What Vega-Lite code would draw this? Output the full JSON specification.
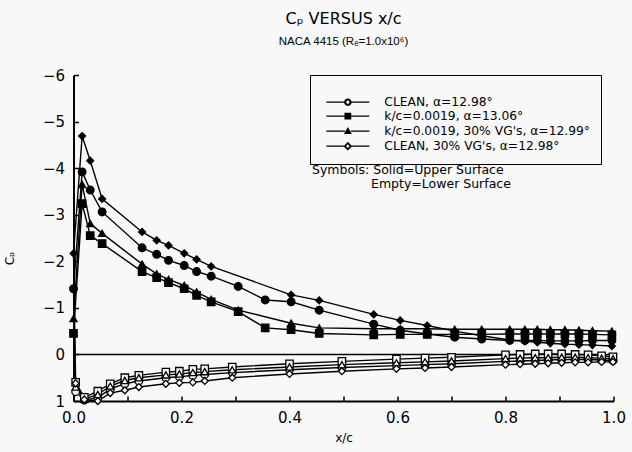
{
  "$schema": "https://vega.github.io/schema/vega-lite/v6.json",
  "width": 540,
  "height": 326,
  "autosize": "none",
  "padding": {"left": 73.5, "top": 75, "right": 18.5, "bottom": 51},
  "background": "#f8f8f8",
  "title": {
    "text": "Cₚ VERSUS x/c",
    "subtitle": "NACA 4415 (Rₑ=1.0x10⁶)",
    "font": "DejaVu Sans",
    "fontSize": 16,
    "fontWeight": "normal",
    "color": "black",
    "subtitleFont": "Liberation Sans",
    "subtitleFontSize": 11.5,
    "subtitleColor": "black",
    "subtitlePadding": 9,
    "anchor": "middle",
    "offset": 21
  },
  "config": {
    "view": {"stroke": null},
    "font": "DejaVu Sans",
    "axis": {
      "domainColor": "black",
      "domainWidth": 2,
      "tickColor": "black",
      "tickWidth": 1.5,
      "tickSize": -5,
      "labelColor": "black",
      "labelFont": "DejaVu Sans",
      "labelFontSize": 15,
      "labelFlush": false,
      "labelOverlap": false,
      "titleColor": "black",
      "titleFont": "DejaVu Sans",
      "titleFontSize": 12,
      "titleFontWeight": "normal",
      "grid": false
    }
  },
  "data": {
    "values": [
      {"c":"A","s":"U","x":0.997,"cp":-0.3},{"c":"A","s":"U","x":0.961,"cp":-0.3},{"c":"A","s":"U","x":0.936,"cp":-0.29},{"c":"A","s":"U","x":0.91,"cp":-0.29},{"c":"A","s":"U","x":0.883,"cp":-0.29},{"c":"A","s":"U","x":0.859,"cp":-0.3},{"c":"A","s":"U","x":0.836,"cp":-0.3},{"c":"A","s":"U","x":0.808,"cp":-0.3},{"c":"A","s":"U","x":0.756,"cp":-0.33},{"c":"A","s":"U","x":0.706,"cp":-0.37},{"c":"A","s":"U","x":0.655,"cp":-0.44},{"c":"A","s":"U","x":0.605,"cp":-0.52},{"c":"A","s":"U","x":0.556,"cp":-0.65},{"c":"A","s":"U","x":0.455,"cp":-0.95},{"c":"A","s":"U","x":0.403,"cp":-1.13},{"c":"A","s":"U","x":0.355,"cp":-1.17},{"c":"A","s":"U","x":0.305,"cp":-1.46},{"c":"A","s":"U","x":0.255,"cp":-1.68},{"c":"A","s":"U","x":0.228,"cp":-1.78},{"c":"A","s":"U","x":0.205,"cp":-1.91},{"c":"A","s":"U","x":0.176,"cp":-2.02},{"c":"A","s":"U","x":0.154,"cp":-2.15},{"c":"A","s":"U","x":0.127,"cp":-2.29},{"c":"A","s":"U","x":0.053,"cp":-3.06},{"c":"A","s":"U","x":0.031,"cp":-3.53},{"c":"A","s":"U","x":0.016,"cp":-3.92},{"c":"A","s":"U","x":0.0,"cp":-1.41},
      {"c":"A","s":"L","x":0.004,"cp":0.8},{"c":"A","s":"L","x":0.02,"cp":0.98},{"c":"A","s":"L","x":0.045,"cp":0.93},{"c":"A","s":"L","x":0.068,"cp":0.74},{"c":"A","s":"L","x":0.095,"cp":0.63},{"c":"A","s":"L","x":0.121,"cp":0.57},{"c":"A","s":"L","x":0.171,"cp":0.5},{"c":"A","s":"L","x":0.196,"cp":0.48},{"c":"A","s":"L","x":0.221,"cp":0.45},{"c":"A","s":"L","x":0.243,"cp":0.43},{"c":"A","s":"L","x":0.294,"cp":0.39},{"c":"A","s":"L","x":0.4,"cp":0.33},{"c":"A","s":"L","x":0.497,"cp":0.28},{"c":"A","s":"L","x":0.598,"cp":0.24},{"c":"A","s":"L","x":0.651,"cp":0.22},{"c":"A","s":"L","x":0.7,"cp":0.2},{"c":"A","s":"L","x":0.8,"cp":0.15},{"c":"A","s":"L","x":0.827,"cp":0.14},{"c":"A","s":"L","x":0.855,"cp":0.13},{"c":"A","s":"L","x":0.879,"cp":0.12},{"c":"A","s":"L","x":0.904,"cp":0.11},{"c":"A","s":"L","x":0.929,"cp":0.11},{"c":"A","s":"L","x":0.953,"cp":0.11},{"c":"A","s":"L","x":0.978,"cp":0.12},{"c":"A","s":"L","x":0.999,"cp":0.13},
      {"c":"B","s":"U","x":0.997,"cp":-0.42},{"c":"B","s":"U","x":0.961,"cp":-0.43},{"c":"B","s":"U","x":0.936,"cp":-0.44},{"c":"B","s":"U","x":0.91,"cp":-0.44},{"c":"B","s":"U","x":0.883,"cp":-0.44},{"c":"B","s":"U","x":0.859,"cp":-0.44},{"c":"B","s":"U","x":0.836,"cp":-0.44},{"c":"B","s":"U","x":0.808,"cp":-0.44},{"c":"B","s":"U","x":0.756,"cp":-0.43},{"c":"B","s":"U","x":0.706,"cp":-0.43},{"c":"B","s":"U","x":0.655,"cp":-0.43},{"c":"B","s":"U","x":0.605,"cp":-0.43},{"c":"B","s":"U","x":0.556,"cp":-0.42},{"c":"B","s":"U","x":0.455,"cp":-0.45},{"c":"B","s":"U","x":0.403,"cp":-0.53},{"c":"B","s":"U","x":0.355,"cp":-0.57},{"c":"B","s":"U","x":0.305,"cp":-0.92},{"c":"B","s":"U","x":0.255,"cp":-1.13},{"c":"B","s":"U","x":0.228,"cp":-1.27},{"c":"B","s":"U","x":0.205,"cp":-1.41},{"c":"B","s":"U","x":0.176,"cp":-1.54},{"c":"B","s":"U","x":0.154,"cp":-1.65},{"c":"B","s":"U","x":0.127,"cp":-1.78},{"c":"B","s":"U","x":0.053,"cp":-2.38},{"c":"B","s":"U","x":0.031,"cp":-2.55},{"c":"B","s":"U","x":0.016,"cp":-3.24},{"c":"B","s":"U","x":0.0,"cp":-0.45},
      {"c":"B","s":"L","x":0.004,"cp":0.6},{"c":"B","s":"L","x":0.02,"cp":0.92},{"c":"B","s":"L","x":0.045,"cp":0.79},{"c":"B","s":"L","x":0.068,"cp":0.63},{"c":"B","s":"L","x":0.095,"cp":0.5},{"c":"B","s":"L","x":0.121,"cp":0.45},{"c":"B","s":"L","x":0.171,"cp":0.38},{"c":"B","s":"L","x":0.196,"cp":0.36},{"c":"B","s":"L","x":0.221,"cp":0.32},{"c":"B","s":"L","x":0.243,"cp":0.31},{"c":"B","s":"L","x":0.294,"cp":0.27},{"c":"B","s":"L","x":0.4,"cp":0.2},{"c":"B","s":"L","x":0.497,"cp":0.15},{"c":"B","s":"L","x":0.598,"cp":0.1},{"c":"B","s":"L","x":0.651,"cp":0.08},{"c":"B","s":"L","x":0.7,"cp":0.06},{"c":"B","s":"L","x":0.8,"cp":0.01},{"c":"B","s":"L","x":0.827,"cp":0.0},{"c":"B","s":"L","x":0.855,"cp":-0.01},{"c":"B","s":"L","x":0.879,"cp":-0.01},{"c":"B","s":"L","x":0.904,"cp":-0.01},{"c":"B","s":"L","x":0.929,"cp":0.0},{"c":"B","s":"L","x":0.953,"cp":0.01},{"c":"B","s":"L","x":0.978,"cp":0.03},{"c":"B","s":"L","x":0.999,"cp":0.05},
      {"c":"C","s":"U","x":0.997,"cp":-0.5},{"c":"C","s":"U","x":0.961,"cp":-0.51},{"c":"C","s":"U","x":0.936,"cp":-0.52},{"c":"C","s":"U","x":0.91,"cp":-0.53},{"c":"C","s":"U","x":0.883,"cp":-0.53},{"c":"C","s":"U","x":0.859,"cp":-0.54},{"c":"C","s":"U","x":0.836,"cp":-0.54},{"c":"C","s":"U","x":0.808,"cp":-0.54},{"c":"C","s":"U","x":0.756,"cp":-0.54},{"c":"C","s":"U","x":0.706,"cp":-0.54},{"c":"C","s":"U","x":0.655,"cp":-0.55},{"c":"C","s":"U","x":0.605,"cp":-0.55},{"c":"C","s":"U","x":0.556,"cp":-0.55},{"c":"C","s":"U","x":0.455,"cp":-0.57},{"c":"C","s":"U","x":0.403,"cp":-0.67},{"c":"C","s":"U","x":0.305,"cp":-0.95},{"c":"C","s":"U","x":0.255,"cp":-1.18},{"c":"C","s":"U","x":0.228,"cp":-1.34},{"c":"C","s":"U","x":0.205,"cp":-1.48},{"c":"C","s":"U","x":0.176,"cp":-1.61},{"c":"C","s":"U","x":0.154,"cp":-1.73},{"c":"C","s":"U","x":0.127,"cp":-1.94},{"c":"C","s":"U","x":0.053,"cp":-2.6},{"c":"C","s":"U","x":0.031,"cp":-2.81},{"c":"C","s":"U","x":0.016,"cp":-3.65},{"c":"C","s":"U","x":0.0,"cp":-0.77},
      {"c":"C","s":"L","x":0.004,"cp":0.7},{"c":"C","s":"L","x":0.02,"cp":0.96},{"c":"C","s":"L","x":0.045,"cp":0.86},{"c":"C","s":"L","x":0.068,"cp":0.68},{"c":"C","s":"L","x":0.095,"cp":0.56},{"c":"C","s":"L","x":0.121,"cp":0.5},{"c":"C","s":"L","x":0.171,"cp":0.44},{"c":"C","s":"L","x":0.196,"cp":0.42},{"c":"C","s":"L","x":0.221,"cp":0.39},{"c":"C","s":"L","x":0.243,"cp":0.37},{"c":"C","s":"L","x":0.294,"cp":0.33},{"c":"C","s":"L","x":0.4,"cp":0.27},{"c":"C","s":"L","x":0.497,"cp":0.22},{"c":"C","s":"L","x":0.598,"cp":0.18},{"c":"C","s":"L","x":0.651,"cp":0.16},{"c":"C","s":"L","x":0.7,"cp":0.14},{"c":"C","s":"L","x":0.8,"cp":0.09},{"c":"C","s":"L","x":0.827,"cp":0.08},{"c":"C","s":"L","x":0.855,"cp":0.07},{"c":"C","s":"L","x":0.879,"cp":0.07},{"c":"C","s":"L","x":0.904,"cp":0.06},{"c":"C","s":"L","x":0.929,"cp":0.06},{"c":"C","s":"L","x":0.953,"cp":0.07},{"c":"C","s":"L","x":0.978,"cp":0.08},{"c":"C","s":"L","x":0.999,"cp":0.09},
      {"c":"D","s":"U","x":0.997,"cp":-0.18},{"c":"D","s":"U","x":0.961,"cp":-0.2},{"c":"D","s":"U","x":0.936,"cp":-0.21},{"c":"D","s":"U","x":0.91,"cp":-0.22},{"c":"D","s":"U","x":0.883,"cp":-0.24},{"c":"D","s":"U","x":0.859,"cp":-0.26},{"c":"D","s":"U","x":0.836,"cp":-0.28},{"c":"D","s":"U","x":0.808,"cp":-0.31},{"c":"D","s":"U","x":0.756,"cp":-0.4},{"c":"D","s":"U","x":0.706,"cp":-0.5},{"c":"D","s":"U","x":0.655,"cp":-0.62},{"c":"D","s":"U","x":0.605,"cp":-0.73},{"c":"D","s":"U","x":0.556,"cp":-0.86},{"c":"D","s":"U","x":0.455,"cp":-1.16},{"c":"D","s":"U","x":0.403,"cp":-1.28},{"c":"D","s":"U","x":0.255,"cp":-1.89},{"c":"D","s":"U","x":0.228,"cp":-2.04},{"c":"D","s":"U","x":0.205,"cp":-2.17},{"c":"D","s":"U","x":0.176,"cp":-2.34},{"c":"D","s":"U","x":0.154,"cp":-2.45},{"c":"D","s":"U","x":0.127,"cp":-2.63},{"c":"D","s":"U","x":0.053,"cp":-3.34},{"c":"D","s":"U","x":0.031,"cp":-4.16},{"c":"D","s":"U","x":0.016,"cp":-4.69},{"c":"D","s":"U","x":0.0,"cp":-2.17},
      {"c":"D","s":"L","x":0.004,"cp":0.62},{"c":"D","s":"L","x":0.02,"cp":0.97},{"c":"D","s":"L","x":0.045,"cp":1.0},{"c":"D","s":"L","x":0.068,"cp":0.83},{"c":"D","s":"L","x":0.095,"cp":0.77},{"c":"D","s":"L","x":0.121,"cp":0.7},{"c":"D","s":"L","x":0.171,"cp":0.63},{"c":"D","s":"L","x":0.196,"cp":0.61},{"c":"D","s":"L","x":0.221,"cp":0.6},{"c":"D","s":"L","x":0.243,"cp":0.57},{"c":"D","s":"L","x":0.294,"cp":0.5},{"c":"D","s":"L","x":0.4,"cp":0.42},{"c":"D","s":"L","x":0.497,"cp":0.36},{"c":"D","s":"L","x":0.598,"cp":0.31},{"c":"D","s":"L","x":0.651,"cp":0.29},{"c":"D","s":"L","x":0.7,"cp":0.27},{"c":"D","s":"L","x":0.8,"cp":0.22},{"c":"D","s":"L","x":0.827,"cp":0.21},{"c":"D","s":"L","x":0.855,"cp":0.2},{"c":"D","s":"L","x":0.879,"cp":0.19},{"c":"D","s":"L","x":0.904,"cp":0.18},{"c":"D","s":"L","x":0.929,"cp":0.17},{"c":"D","s":"L","x":0.953,"cp":0.17},{"c":"D","s":"L","x":0.978,"cp":0.16},{"c":"D","s":"L","x":0.999,"cp":0.16}
    ]
  },
  "layer": [
    {
      "data": {"values": [{}]},
      "mark": {"type": "rule", "color": "black", "strokeWidth": 1.5},
      "encoding": {"y": {"datum": 0, "type": "quantitative"}}
    },
    {
      "mark": {"type": "line", "color": "black", "strokeWidth": 1.4},
      "encoding": {
        "x": {"field": "x", "type": "quantitative",
          "scale": {"domain": [0, 1], "nice": false, "zero": false},
          "axis": {"title": "x/c", "values": [0,0.1,0.2,0.3,0.4,0.5,0.6,0.7,0.8,0.9,1.0],
            "labelExpr": "round(datum.value*10)%2==0 ? format(datum.value,'.1f') : ''",
            "labelPadding": 14, "titlePadding": 7}},
        "y": {"field": "cp", "type": "quantitative",
          "scale": {"domain": [-6, 1], "reverse": true, "nice": false, "zero": false},
          "axis": {"title": "Cₚ", "values": [-6,-5,-4,-3,-2,-1,0,1], "format": "d",
            "labelPadding": 14, "titleX": -57, "titleY": 183}},
        "detail": {"field": "c", "type": "nominal"},
        "order": {"value": null}
      }
    },
    {
      "mark": {"type": "point", "filled": true, "stroke": "black", "strokeWidth": 1.3, "opacity": 1},
      "encoding": {
        "x": {"field": "x", "type": "quantitative", "axis": {"title": "x/c"}},
        "y": {"field": "cp", "type": "quantitative", "axis": {"title": "Cₚ"}},
        "shape": {"field": "c", "type": "nominal", "legend": null,
          "scale": {"domain": ["A","B","C","D"], "range": ["circle","square","triangle-up","diamond"]}},
        "size": {"field": "c", "type": "ordinal", "legend": null,
          "scale": {"domain": ["A","B","C","D"], "range": [58, 48, 58, 82]}},
        "fill": {"field": "s", "type": "nominal", "legend": null,
          "scale": {"domain": ["U","L"], "range": ["black", "#f8f8f8"]}}
      }
    },
    {
      "transform": [{"filter": "datum.s == 'U'"}],
      "mark": {"type": "point", "filled": true, "color": "black", "stroke": "black", "strokeWidth": 1.3, "opacity": 0},
      "encoding": {
        "x": {"field": "x", "type": "quantitative", "axis": {"title": "x/c"}},
        "y": {"field": "cp", "type": "quantitative", "axis": {"title": "Cₚ"}},
        "shape": {"field": "c", "type": "nominal",
          "scale": {"domain": ["A","B","C","D"], "range": [
            "M-4.3,-0.14L-0.7,-0.14L-0.7,0.14L-4.3,0.14ZM0.7,-0.14L4.3,-0.14L4.3,0.14L0.7,0.14ZM-0.74,0A0.74,0.74,0,1,1,0.74,0A0.74,0.74,0,1,1,-0.74,0ZM-0.32,0A0.32,0.32,0,1,0,0.32,0A0.32,0.32,0,1,0,-0.32,0Z",
            "M-4.3,-0.14L-0.6,-0.14L-0.6,0.14L-4.3,0.14ZM0.6,-0.14L4.3,-0.14L4.3,0.14L0.6,0.14ZM-0.68,-0.68L0.68,-0.68L0.68,0.68L-0.68,0.68Z",
            "M-4.3,-0.14L-0.6,-0.14L-0.6,0.14L-4.3,0.14ZM0.6,-0.14L4.3,-0.14L4.3,0.14L0.6,0.14ZM0,-0.85L0.8,0.55L-0.8,0.55Z",
            "M-4.3,-0.14L-0.75,-0.14L-0.75,0.14L-4.3,0.14ZM0.75,-0.14L4.3,-0.14L4.3,0.14L0.75,0.14ZM0,-0.86L0.86,0L0,0.86L-0.86,0ZM0,-0.36L-0.36,0L0,0.36L0.36,0Z"
          ]},
          "legend": {
            "orient": "none", "legendX": 236.5, "legendY": 0,
            "title": " ", "titleFontSize": 9, "titlePadding": 2,
            "padding": 10, "strokeColor": "black", "fillColor": "#f8f8f8",
            "symbolSize": 100, "symbolOffset": 21.7, "rowPadding": 1,
            "symbolFillColor": "black", "symbolStrokeColor": "black", "symbolStrokeWidth": 1.3,
            "labelFont": "DejaVu Sans", "labelFontSize": 12.3, "labelColor": "black", "labelOffset": 30.3, "labelLimit": 400,
            "labelExpr": "datum.label == 'A' ? 'CLEAN, α=12.98°' : datum.label == 'B' ? 'k/c=0.0019, α=13.06°' : datum.label == 'C' ? \"k/c=0.0019, 30% VG's, α=12.99°\" : \"CLEAN, 30% VG's, α=12.98°\"",
            "symbolOpacity": 1,
            "encode": {
              "legend": {"strokeWidth": {"value": 1.5}},
              "symbols": {"fill": {"value": "black"}, "opacity": {"value": 1}}
            }
          }
        }
      }
    },
    {
      "data": {"values": [{}]},
      "mark": {"type": "text", "align": "left", "baseline": "middle", "font": "DejaVu Sans", "fontSize": 12.5, "color": "black"},
      "encoding": {
        "x": {"datum": 0.4417, "type": "quantitative"},
        "y": {"datum": -3.96, "type": "quantitative"},
        "text": {"value": "Symbols: Solid=Upper Surface"}
      }
    },
    {
      "data": {"values": [{}]},
      "mark": {"type": "text", "align": "left", "baseline": "middle", "font": "DejaVu Sans", "fontSize": 12.5, "color": "black"},
      "encoding": {
        "x": {"datum": 0.551, "type": "quantitative"},
        "y": {"datum": -3.66, "type": "quantitative"},
        "text": {"value": "Empty=Lower Surface"}
      }
    }
  ],
  "resolve": {"scale": {"shape": "independent"}}
}
